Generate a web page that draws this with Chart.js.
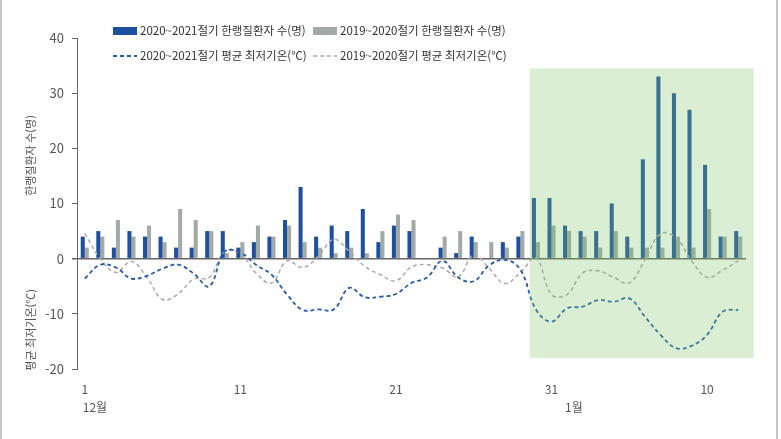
<!DOCTYPE html>
<html lang="ko">
<head>
<meta charset="UTF-8">
<title>한랭질환자 수와 평균 최저기온</title>
<script src="https://cdn.jsdelivr.net/npm/chart.js"></script>
<style>
    body { margin: 0; background: #fff; }
    #wrap { width: 781px; height: 439px; }
</style>
</head>
<body>
<div id="wrap"><canvas id="chart" width="781" height="439"></canvas></div>
<script>
// 12/1 ~ 1/12
const days = ['1','2','3','4','5','6','7','8','9','10','11','12','13','14','15','16','17','18','19','20',
              '21','22','23','24','25','26','27','28','29','30','31',
              '1','2','3','4','5','6','7','8','9','10','11','12'];

const patients2021 = [4,5,2,5,4,4,2,2,5,5, 2,3,4,7,13,4,6,5,9,3, 6,5,0,2,1,4,0,3,4,11,11,
                      6,5,5,10,4,18,33,30,27,17,4,5];
const patients2020 = [2,4,7,4,6,3,9,7,5,1, 3,6,4,6,3,2,1,2,1,5, 8,7,0,4,5,3,3,2,5,3,6,
                      5,4,2,5,2,2,2,4,2,9,4,4];

const temp2021 = [-3.6,-1.1,-1.6,-3.6,-3.1,-1.8,-1.1,-2.7,-5.0,1.3, 1.1,-1.1,-2.9,-6.5,-9.3,-9.2,-9.2,-5.3,-7.0,-6.9,
                  -6.4,-4.4,-3.4,-0.4,-3.4,-4.1,-1.2,-0.2,-2.0,-9.2,-11.4,
                  -9.0,-8.7,-7.5,-7.8,-7.2,-10.5,-13.8,-16.2,-15.8,-13.8,-9.6,-9.3];
const temp2020 = [4.6,0.0,-2.5,-0.5,-3.4,-7.4,-6.4,-3.7,-3.4,1.3, 1.0,-2.6,-4.4,-0.4,-1.6,0.4,3.5,1.3,-1.4,-2.9,
                  -4.0,-1.5,-1.1,-1.7,-3.3,0.7,-1.8,-4.5,-2.5,0.1,-6.5,
                  -6.5,-2.6,-2.2,-3.4,-4.4,-0.2,4.5,3.8,-0.4,-3.4,-2.1,-0.4];

const tickIdx = [0, 10, 20, 30, 40];
const tickText = ['1', '11', '21', '31', '10'];
const monthIdx = [0, 31];
const monthText = ['12월', '1월'];

// 강조 구간 (category index / y value)
const hlStart = 28.6, hlEnd = 43.0, hlTop = 34.5, hlBottom = -18;

const FONT = "'Noto Sans CJK KR', 'Noto Sans', sans-serif";
Chart.defaults.font.family = FONT;

const BLUE = '#1f4f9f';
const GREY = '#a2a9a7';

const extras = {
    id: 'extras',
    afterDatasetsDraw(chart) {
        const {ctx, scales: {x, y}} = chart;
        const x0 = x.getPixelForValue(hlStart), x1 = x.getPixelForValue(hlEnd);
        const y0 = y.getPixelForValue(hlTop), y1 = y.getPixelForValue(hlBottom);
        ctx.save();
        ctx.fillStyle = 'rgba(124,196,103,0.29)';
        ctx.fillRect(x0, y0, x1 - x0, y1 - y0);
        ctx.restore();
    },
    afterDraw(chart) {
        const {ctx, scales: {x, y}, chartArea} = chart;
        ctx.save();
        // frame
        ctx.strokeStyle = '#c8c8c8';
        ctx.lineWidth = 2;
        ctx.beginPath();
        ctx.moveTo(1, 0); ctx.lineTo(1, 439);
        ctx.moveTo(777, 0); ctx.lineTo(777, 439);
        ctx.stroke();

        // month labels
        ctx.fillStyle = '#555';
        ctx.font = '12px ' + FONT;
        ctx.textAlign = 'left';
        ctx.textBaseline = 'middle';
        monthIdx.forEach((i, k) => {
            ctx.fillText(monthText[k], x.getPixelForValue(i) - 2, chartArea.bottom + 38);
        });

        // axis titles
        ctx.font = '11px ' + FONT;
        ctx.fillStyle = '#555';
        ctx.textAlign = 'center';
        [['한랭질환자 수(명)', 18.7], ['평균 최저기온(℃)', -12.9]].forEach(([t, v]) => {
            ctx.save();
            ctx.translate(31, y.getPixelForValue(v));
            ctx.rotate(-Math.PI / 2);
            ctx.fillText(t, 0, 0);
            ctx.restore();
        });

        // legend
        const pos = [[113, 31], [313, 31], [113, 56], [313, 56]];
        ctx.font = '11.5px ' + FONT;
        ctx.textAlign = 'left';
        chart.data.datasets.forEach((ds, i) => {
            const [lx, ly] = pos[i];
            if (ds.type === 'line') {
                ctx.strokeStyle = ds.borderColor;
                ctx.lineWidth = ds.borderWidth;
                ctx.setLineDash(ds.borderDash);
                ctx.beginPath();
                ctx.moveTo(lx, ly); ctx.lineTo(lx + 24, ly);
                ctx.stroke();
                ctx.setLineDash([]);
            } else {
                ctx.fillStyle = ds.backgroundColor;
                ctx.fillRect(lx, ly - 4, 24, 8);
            }
            ctx.fillStyle = '#333';
            ctx.fillText(ds.label, lx + 27, ly);
        });
        ctx.restore();
    }
};

new Chart(document.getElementById('chart'), {
    data: {
        labels: days,
        datasets: [
            {
                type: 'bar', label: '2020~2021절기 한랭질환자 수(명)', data: patients2021,
                backgroundColor: BLUE, barPercentage: 1, categoryPercentage: 0.52, order: 2
            },
            {
                type: 'bar', label: '2019~2020절기 한랭질환자 수(명)', data: patients2020,
                backgroundColor: GREY, barPercentage: 1, categoryPercentage: 0.52, order: 2
            },
            {
                type: 'line', label: '2020~2021절기 평균 최저기온(℃)', data: temp2021,
                borderColor: '#2a5aa8', borderWidth: 1.8, borderDash: [4, 3], tension: 0.4,
                pointRadius: 0, fill: false, order: 1
            },
            {
                type: 'line', label: '2019~2020절기 평균 최저기온(℃)', data: temp2020,
                borderColor: '#aaaaaa', borderWidth: 1.5, borderDash: [4, 3], tension: 0.4,
                pointRadius: 0, fill: false, order: 1
            }
        ]
    },
    options: {
        responsive: false,
        devicePixelRatio: 1,
        animation: false,
        layout: { padding: { top: 38, right: 35, left: 0, bottom: 0 } },
        plugins: { legend: { display: false }, tooltip: { enabled: false } },
        scales: {
            x: {
                offset: true,
                grid: { display: false, drawTicks: false },
                border: { display: false },
                ticks: {
                    autoSkip: false, maxRotation: 0, color: '#555', padding: 13,
                    font: { size: 12 },
                    callback: (v, i) => {
                        const k = tickIdx.indexOf(i);
                        return k < 0 ? '' : tickText[k];
                    }
                },
                afterFit: s => { s.height = 70; }
            },
            y: {
                min: -20, max: 40,
                ticks: { stepSize: 10, color: '#555', padding: 8, font: { size: 13 } },
                border: { display: true, color: '#666', width: 1 },
                grid: {
                    color: c => (c.tick && c.tick.value === 0) ? '#666' : 'rgba(0,0,0,0)',
                    lineWidth: c => (c.tick && c.tick.value === 0) ? 1.5 : 1,
                    tickColor: '#666', tickLength: 5, drawTicks: true
                },
                afterFit: s => { s.width = 77; }
            }
        }
    },
    plugins: [extras]
});
</script>
</body>
</html>
